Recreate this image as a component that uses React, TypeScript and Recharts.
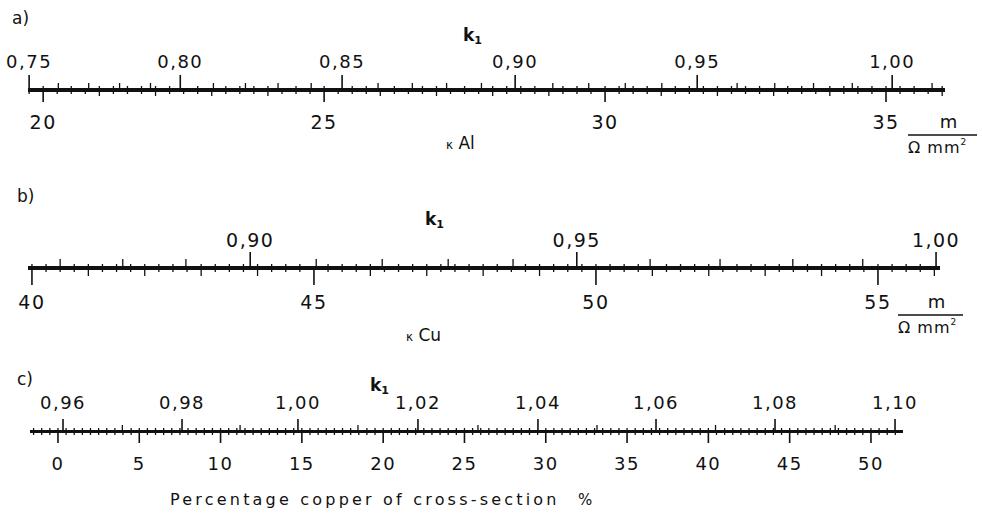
import { LineChart, Line, XAxis, YAxis } from 'recharts';

const FONT = '"DejaVu Sans", Verdana, sans-serif';
const INK = '#111';
const W = 982;

// a) aluminium: conductivity (m / Ω mm²) below, k1 above
const alDomain: [number, number] = [19.73, 36.05];
const alTicks = [20, 25, 30, 35];
const alK1Labels = ['0,75', '0,80', '0,85', '0,90', '0,95', '1,00'];
const alK1At = [19.75, 22.44, 25.32, 28.4, 31.64, 35.11];
const alK1Minor = [20.27, 20.81, 21.36, 21.91, 23.03, 23.6, 24.18, 24.77, 25.96, 26.57, 27.18, 27.8,
  29.07, 29.71, 30.36, 31.01, 32.35, 33.02, 33.71, 34.4, 35.82];

// b) copper
const cuDomain: [number, number] = [39.93, 56.1];
const cuTicks = [40, 45, 50, 55];
const cuK1Labels = ['0,90', '0,95', '1,00'];
const cuK1At = [43.87, 49.66, 56.03];
const cuK1Minor = [40.5, 41.61, 42.73, 45.04, 46.21, 47.38, 48.53, 50.96, 52.2, 53.49, 54.73];

// c) percentage copper of cross-section
const pcDomain: [number, number] = [-1.72, 51.97];
const pcTicks = [0, 5, 10, 15, 20, 25, 30, 35, 40, 45, 50];
const pcK1Labels = ['0,96', '0,98', '1,00', '1,02', '1,04', '1,06', '1,08', '1,10'];
const pcK1At = [0.31, 7.63, 14.76, 22.14, 29.52, 36.78, 44.1, 51.48];
const pcK1Minor = [3.96, 11.2, 18.45, 25.83, 33.15, 40.44, 47.8];

// regular graduation marks of a scale
const grad = (domain: [number, number], step: number) => {
  const out: number[] = [];
  for (let v = Math.ceil(domain[0] / step) * step; v <= domain[1]; v += step) {
    out.push(Math.round(v * 1000) / 1000);
  }
  return out;
};

// merge tick lists, first occurrence wins, no value twice
const merge = (...lists: number[][]) => {
  const out: number[] = [];
  lists.flat().forEach((v) => {
    if (!out.some((o) => Math.abs(o - v) < 0.08)) out.push(v);
  });
  return out;
};

type ScaleProps = {
  y: number;
  left: number;
  right: number;
  domain: [number, number];
  ticks: number[];
  k1At: number[];
  k1Labels: string[];
  k1Minor: number[];
  midStep: number;
  fineStep: number;
  topLen: number;
  topMinorLen: number;
  topGap: number;
  botLen: number;
  botMidLen: number;
  botGap: number;
  topFont: number;
  botFont: number;
  band: number;
};

function Scale(p: ScaleProps) {
  const M = 60;
  const data = p.ticks.map((t) => ({ x: t, y: 0 }));
  const topTicks = merge(p.k1At, p.k1Minor, grad(p.domain, p.fineStep));
  const botTicks = merge(p.ticks, grad(p.domain, p.midStep), grad(p.domain, p.fineStep));

  const TopTick = (t: any) => {
    const v = t.payload.value;
    const i = p.k1At.indexOf(v);
    const len = i >= 0 ? p.topLen : p.k1Minor.includes(v) ? p.topMinorLen : 3;
    return (
      <g>
        <line x1={t.x} x2={t.x} y1={t.y} y2={t.y - len} stroke={INK} strokeWidth={i >= 0 ? 1.6 : 1.3} />
        {i >= 0 && (
          <text x={t.x} y={t.y - len - p.topGap} textAnchor="middle" fontSize={p.topFont}
            fontFamily={FONT} fill={INK} letterSpacing={1.5}>{p.k1Labels[i]}</text>
        )}
      </g>
    );
  };

  const BotTick = (t: any) => {
    const v = t.payload.value;
    const major = p.ticks.includes(v);
    const mid = !major && Math.abs(v / p.midStep - Math.round(v / p.midStep)) < 1e-6;
    const len = major ? p.botLen : mid ? p.botMidLen : 3;
    return (
      <g>
        <line x1={t.x} x2={t.x} y1={t.y} y2={t.y + len} stroke={INK} strokeWidth={major ? 1.6 : 1.3} />
        {major && (
          <text x={t.x} y={t.y + len + p.botGap + p.botFont * 0.73} textAnchor="middle" fontSize={p.botFont}
            fontFamily={FONT} fill={INK} letterSpacing={1.5}>{v}</text>
        )}
      </g>
    );
  };

  return (
    <div style={{ position: 'absolute', left: 0, top: p.y - p.band / 2 - M - 1 }}>
      <LineChart width={W} height={2 * M + p.band + 2} data={data}
        margin={{ top: M, bottom: M, left: p.left, right: W - p.right }}>
        <YAxis hide domain={[0, 1]} />
        {/* k1 scale above the line */}
        <XAxis xAxisId="t" dataKey="x" orientation="top" type="number" domain={p.domain} allowDataOverflow height={1}
          ticks={topTicks} interval={0} tickSize={0} tickMargin={0} tickLine={false}
          axisLine={{ stroke: INK, strokeWidth: 2 }} tick={TopTick} />
        {/* conductivity / percentage scale below the line */}
        <XAxis xAxisId="b" dataKey="x" orientation="bottom" type="number" domain={p.domain} allowDataOverflow height={1}
          ticks={botTicks} interval={0} tickSize={0} tickMargin={0} tickLine={false}
          axisLine={{ stroke: INK, strokeWidth: 2 }} tick={BotTick} />
        <Line xAxisId="t" dataKey="y" stroke="none" dot={false} isAnimationActive={false} />
        <Line xAxisId="b" dataKey="y" stroke="none" dot={false} isAnimationActive={false} />
      </LineChart>
    </div>
  );
}

function Unit({ x1, x2, y }: { x1: number; x2: number; y: number }) {
  const mid = (x1 + x2) / 2;
  return (
    <g>
      <text x={mid + 6} y={y - 7} fontSize={18} textAnchor="middle">m</text>
      <line x1={x1} x2={x2} y1={y} y2={y} stroke={INK} strokeWidth={1.6} />
      <text x={x1} y={y + 18} fontSize={16} letterSpacing={1}>
        Ω mm<tspan fontSize={9} dy={-8}>2</tspan>
      </text>
    </g>
  );
}

function K1({ x, y }: { x: number; y: number }) {
  return (
    <text x={x} y={y} fontSize={17} fontWeight="bold">
      k<tspan fontSize={11} dy={3}>1</tspan>
    </text>
  );
}

export default function App() {
  return (
    <div style={{ position: 'absolute', left: 0, top: 0, width: W, height: 516, background: '#fff', overflow: 'hidden' }}>
      <Scale y={90} left={28} right={945} domain={alDomain} ticks={alTicks}
        k1At={alK1At} k1Labels={alK1Labels} k1Minor={alK1Minor} midStep={1} fineStep={0.25}
        topLen={14} topMinorLen={6} topGap={7} botLen={11} botMidLen={5} botGap={13}
        topFont={18} botFont={19} band={2} />
      <Scale y={268} left={28} right={940} domain={cuDomain} ticks={cuTicks}
        k1At={cuK1At} k1Labels={cuK1Labels} k1Minor={cuK1Minor} midStep={1} fineStep={0.25}
        topLen={15} topMinorLen={8} topGap={5} botLen={16} botMidLen={7} botGap={10}
        topFont={19} botFont={19} band={2} />
      <Scale y={431.5} left={30} right={903} domain={pcDomain} ticks={pcTicks}
        k1At={pcK1At} k1Labels={pcK1Labels} k1Minor={pcK1Minor} midStep={1} fineStep={0.5}
        topLen={12} topMinorLen={6} topGap={10} botLen={11} botMidLen={3} botGap={14}
        topFont={18} botFont={18} band={1} />
      <svg width={W} height={516} style={{ position: 'absolute', left: 0, top: 0 }} fontFamily={FONT} fill={INK}>
        <text x={12} y={24} fontSize={17}>a)</text>
        <K1 x={463} y={41} />
        <text x={446} y={149} fontSize={17}>
          <tspan fontSize={12}>κ</tspan> Al
        </text>
        <Unit x1={908} x2={977} y={135} />

        <text x={17} y={202} fontSize={17}>b)</text>
        <K1 x={425} y={225} />
        <text x={406} y={341} fontSize={17}>
          <tspan fontSize={12}>κ</tspan> Cu
        </text>
        <Unit x1={898} x2={963} y={315} />

        <text x={17} y={385} fontSize={17}>c)</text>
        <K1 x={370} y={391} />
        <text x={170} y={505} fontSize={16} letterSpacing={3.2}>Percentage copper of cross-section</text>
        <text x={578} y={505} fontSize={15}>%</text>
      </svg>
    </div>
  );
}
